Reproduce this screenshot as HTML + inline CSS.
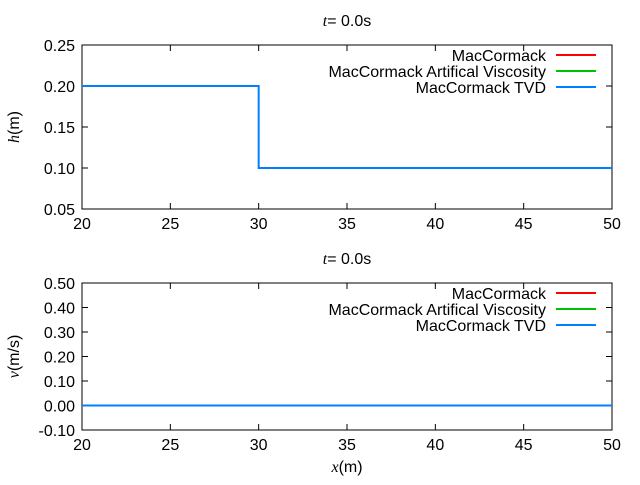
<!DOCTYPE html>
<html><head><meta charset="utf-8"><style>
body{margin:0;background:#fff}
svg text{font-family:"Liberation Sans",sans-serif;font-size:16px;fill:#000}
</style></head><body>
<svg id="c" width="640" height="480" xmlns="http://www.w3.org/2000/svg"></svg>
<script>
const xTicks=[20,25,30,35,40,45,50];
const hTicks=[0.05,0.10,0.15,0.20,0.25];
const vTicks=[-0.1,0,0.1,0.2,0.3,0.4,0.5];
const hX=[20,30,30,50];
const hY=[0.2,0.2,0.1,0.1];
const vX=[20,50];
const vY=[0,0];
const legendNames=["MacCormack","MacCormack Artifical Viscosity","MacCormack TVD"];
const legendColors=["#ff0000","#00c000","#0080ff"];
const NS="http://www.w3.org/2000/svg";
const svg=document.getElementById('c');
function el(t,a,p){const e=document.createElementNS(NS,t);for(const k in a)e.setAttribute(k,a[k]);(p||svg).appendChild(e);return e;}
const L=82,R=612;
const sx=v=>L+(v-20)/30*(R-L);
function panel(idx,top,bot,ymin,ymax,yt,dec,xs,ys,ylabel,name){
  const g=el('g',{});
  
  
  const sy=v=>bot-(v-ymin)/(ymax-ymin)*(bot-top);
  const fr=el('rect',{x:L,y:top,width:R-L,height:bot-top,fill:'none',stroke:'#000','stroke-width':1},g);
  
  
  xTicks.forEach(v=>{
    const x=sx(v);
    el('line',{x1:x,y1:bot,x2:x,y2:bot-6,stroke:'#000'},g);
    el('line',{x1:x,y1:top,x2:x,y2:top+6,stroke:'#000'},g);
    const t=el('text',{x:x,y:bot+20,'text-anchor':'middle'},g);t.textContent=v;
    
    
  });
  yt.forEach(v=>{
    const y=sy(v);
    el('line',{x1:L,y1:y,x2:L+6,y2:y,stroke:'#000'},g);
    el('line',{x1:R,y1:y,x2:R-6,y2:y,stroke:'#000'},g);
    const t=el('text',{x:L-7,y:y+6,'text-anchor':'end'},g);t.textContent=v.toFixed(dec);
    
    
  });
  const tt=el('text',{x:347,y:top-19,'text-anchor':'middle'},g);
  tt.innerHTML='<tspan font-family="Liberation Serif" font-style="italic">t</tspan>=  0.0s';
  tt.setAttribute('xml:space','preserve');
  
  
  const yl=el('text',{transform:`translate(19,${(top+bot)/2}) rotate(-90)`,'text-anchor':'middle'},g);
  yl.innerHTML=ylabel;
  
  
  legendNames.forEach((n,i)=>{
    const y=top+10+i*16;
    const t=el('text',{x:546,y:y+6,'text-anchor':'end'},g);t.textContent=n;
    
    
    el('line',{x1:556,y1:y,x2:596,y2:y,stroke:legendColors[i],'stroke-width':2},g);
  });
  const pts=xs.map((x,i)=>sx(x)+','+sy(ys[i])).join(' ');
  const pl=el('polyline',{points:pts,fill:'none',stroke:legendColors[2],'stroke-width':2},g);
  
  
}
panel(0,45,209,0.05,0.25,hTicks,2,hX,hY,'<tspan font-family="Liberation Serif" font-style="italic">h</tspan>(m)','height-panel');
panel(1,283,430,-0.1,0.5,vTicks,2,vX,vY,'<tspan font-family="Liberation Serif" font-style="italic">v</tspan>(m/s)','velocity-panel');
const xl=el('text',{x:347,y:472,'text-anchor':'middle'});
xl.innerHTML='<tspan font-family="Liberation Serif" font-style="italic">x</tspan>(m)';


</script>
</body></html>
